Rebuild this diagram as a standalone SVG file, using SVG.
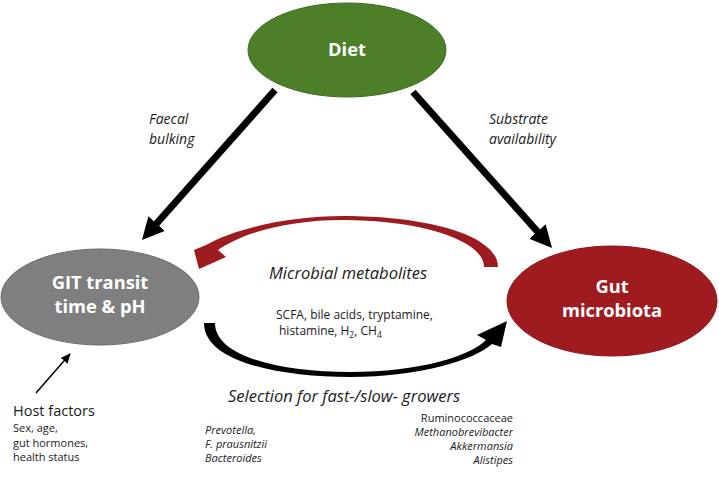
<svg xmlns="http://www.w3.org/2000/svg" width="719" height="484" viewBox="0 0 719 484">
<style>
text{font-family:"Open Sans","Noto Sans","Liberation Sans",sans-serif;fill:#1a1a1a}
.node{font-weight:bold;font-size:18.3px;fill:#ffffff}
.lab{font-style:italic;font-size:14px}
.big{font-style:italic;font-size:16.5px}
.sm{font-size:11px}
.mid{font-size:12px}
.smi{font-size:11px;font-style:italic}
.thick{stroke:#000;stroke-width:7;fill:none}
</style>
<defs>
<marker id="head" markerUnits="userSpaceOnUse" markerWidth="24" markerHeight="24" refX="6" refY="11" orient="auto">
<path d="M0,0 L22,11 L0,22 Z" fill="#000"/>
</marker>
<marker id="thin" markerUnits="userSpaceOnUse" markerWidth="12" markerHeight="12" refX="9" refY="4.5" orient="auto">
<path d="M0,0 L10,4.5 L0,9 Z" fill="#000"/>
</marker>
</defs>
<g id="connectors">
<line class="thick" x1="275" y1="90" x2="152.6" y2="228" marker-end="url(#head)"/>
<line class="thick" x1="413" y1="92" x2="541.4" y2="236" marker-end="url(#head)"/>
<path d="M484,267 C484,240 420,220 343,220 C290,220 243,232 218,250 L226,257 L199,269 L194,250 L206,245 C236,228 290,216 343,216 C430,216 498,236 498,267 Z" fill="#9e1b1f"/>
<path d="M204,323 C204,362 280,377 350,377 C420,377 474,360 492,344 L501,347 L507,321 L477,335 L486,340 C470,356 420,372 350,372 C285,372 215,358 215,323 Z" fill="#000"/>
<line x1="36" y1="393" x2="70" y2="354" stroke="#000" stroke-width="1.5" marker-end="url(#thin)"/>
</g>
<g id="diet">
<ellipse cx="347" cy="50" rx="99" ry="47" fill="#4c7f28" stroke="#3e6a20" stroke-width="1"/>
<text class="node" x="347" y="56" text-anchor="middle">Diet</text>
</g>
<g id="git">
<ellipse cx="100" cy="297" rx="99" ry="48" fill="#7f7f7f" stroke="#6a6a6a" stroke-width="1"/>
<text class="node" x="100" y="289" text-anchor="middle">GIT transit</text>
<text class="node" x="100" y="313" text-anchor="middle">time &amp; pH</text>
</g>
<g id="gut">
<ellipse cx="612" cy="301" rx="105" ry="55" fill="#a01b20" stroke="#8a161a" stroke-width="1"/>
<text class="node" x="612" y="293" text-anchor="middle">Gut</text>
<text class="node" x="612" y="317" text-anchor="middle">microbiota</text>
</g>
<g id="labels">
<text class="lab" x="149" y="124">Faecal</text>
<text class="lab" x="149" y="143.5">bulking</text>
<text class="lab" x="489" y="124">Substrate</text>
<text class="lab" x="489" y="143.5">availability</text>
<text class="big" x="269" y="279">Microbial metabolites</text>
<text class="mid" x="276" y="319">SCFA, bile acids, tryptamine,</text>
<text class="mid" x="279" y="335">histamine, H<tspan font-size="8.5" dy="3">2</tspan><tspan dy="-3">, CH</tspan><tspan font-size="8.5" dy="3">4</tspan></text>
<text class="big" x="228" y="402">Selection for fast-/slow- growers</text>
</g>
<g id="host">
<text x="13" y="416" font-size="14.5">Host factors</text>
<text class="sm" x="13" y="432">Sex, age,</text>
<text class="sm" x="13" y="446.5">gut hormones,</text>
<text class="sm" x="13" y="461">health status</text>
</g>
<g id="fast">
<text class="smi" x="205" y="434">Prevotella,</text>
<text class="smi" x="205" y="448">F. prausnitzii</text>
<text class="smi" x="205" y="462">Bacteroides</text>
</g>
<g id="slow">
<text class="sm" x="513" y="422" text-anchor="end">Ruminococcaceae</text>
<text class="smi" x="513" y="436" text-anchor="end">Methanobrevibacter</text>
<text class="smi" x="513" y="450" text-anchor="end">Akkermansia</text>
<text class="smi" x="513" y="464" text-anchor="end">Alistipes</text>
</g>
</svg>
